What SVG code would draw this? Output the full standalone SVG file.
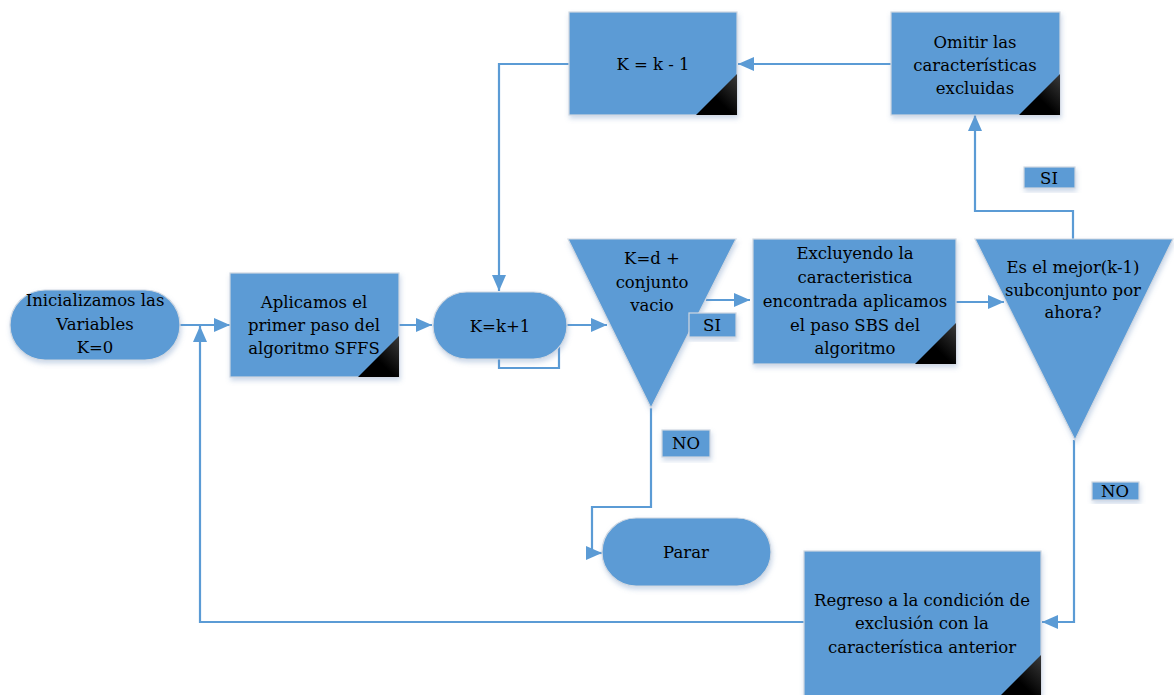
<svg xmlns="http://www.w3.org/2000/svg" width="1174" height="695" viewBox="0 0 1174 695">
<style>
.n{fill:#5B9BD5;stroke:#D0D8E2;stroke-width:1.2;filter:url(#sh)}
.c{fill:url(#cg)}
.t{font-family:"DejaVu Serif","Liberation Serif",serif;font-size:16.5px;fill:#000;text-anchor:middle}
.e{fill:none;stroke:#5B9BD5;stroke-width:2.2}
.a{marker-end:url(#ar)}
</style>
<defs>
<filter id="sh" x="-10%" y="-10%" width="130%" height="130%"><feDropShadow dx="1" dy="3" stdDeviation="2.5" flood-color="#6C8EBF" flood-opacity="0.35"/></filter>
<linearGradient id="cg" x1="0" y1="1" x2="1" y2="0"><stop offset="0.45" stop-color="#000"/><stop offset="1" stop-color="#3a3a3a"/></linearGradient>
<marker id="ar" markerUnits="userSpaceOnUse" markerWidth="16" markerHeight="14" refX="16" refY="7" orient="auto"><path d="M0,0 L16,7 L0,14 z" fill="#5B9BD5"/></marker>
</defs>
<g id="connectors">
<path class="e a" d="M180,325 H230"/>
<path class="e a" d="M808,622 H200 V326"/>
<path class="e a" d="M399,325 H432"/>
<path class="e a" d="M569,64 H499 V291"/>
<path class="e" d="M499,358 V368 H559 V346"/>
<path class="e a" d="M567,325 H607"/>
<path class="e a" d="M706,300 H750"/>
<path class="e a" d="M956,302 H1004"/>
<path class="e a" d="M1073,239 V211 H975 V115"/>
<path class="e a" d="M891,64 H738"/>
<path class="e a" d="M1074,440 V622 H1042"/>
<path class="e" d="M651,408 V507 H592 V553"/>
<path class="e a" d="M586,553 H602"/>
</g>
<g id="n1"><rect class="n" x="10" y="290" width="170" height="70" rx="35"/>
<text class="t" x="95" y="306">Inicializamos las</text><text class="t" x="95" y="330">Variables</text><text class="t" x="95" y="353">K=0</text></g>
<g id="n2"><rect class="n" x="230" y="273" width="169" height="104"/><path class="c" d="M399,336 V377 H358 z"/>
<text class="t" x="314" y="308">Aplicamos el</text><text class="t" x="314" y="331">primer paso del</text><text class="t" x="314" y="354">algoritmo SFFS</text></g>
<g id="n3"><rect class="n" x="433" y="292" width="134" height="67" rx="33.5"/>
<text class="t" x="500" y="332">K=k+1</text></g>
<g id="n4"><path class="n" d="M568,239 H736 L651,408 z"/>
<text class="t" x="652" y="264">K=d +</text><text class="t" x="652" y="288">conjunto</text><text class="t" x="652" y="311">vacio</text></g>
<g id="lsi1"><rect class="n" x="689" y="313" width="47" height="24"/><text class="t" x="712" y="331">SI</text></g>
<g id="n5"><rect class="n" x="753" y="239" width="203" height="125"/><path class="c" d="M956,323 V364 H915 z"/>
<text class="t" x="855" y="259">Excluyendo la</text><text class="t" x="855" y="283">caracteristica</text><text class="t" x="855" y="307">encontrada aplicamos</text><text class="t" x="855" y="331">el paso SBS del</text><text class="t" x="855" y="354">algoritmo</text></g>
<g id="n6"><path class="n" d="M975,239 H1173 L1075,440 z"/>
<text class="t" x="1073" y="273">Es el mejor(k-1)</text><text class="t" x="1073" y="296">subconjunto por</text><text class="t" x="1073" y="318">ahora?</text></g>
<g id="n7"><rect class="n" x="891" y="12" width="169" height="103"/><path class="c" d="M1060,74 V115 H1019 z"/>
<text class="t" x="975" y="48">Omitir las</text><text class="t" x="975" y="71">características</text><text class="t" x="975" y="94">excluidas</text></g>
<g id="n8"><rect class="n" x="569" y="12" width="168" height="103"/><path class="c" d="M737,74 V115 H696 z"/>
<text class="t" x="653" y="70">K = k - 1</text></g>
<g id="lsi2"><rect class="n" x="1024" y="167" width="51" height="21"/><text class="t" x="1049" y="184">SI</text></g>
<g id="lno1"><rect class="n" x="662" y="430" width="48" height="27"/><text class="t" x="686" y="449">NO</text></g>
<g id="lno2"><rect class="n" x="1092" y="482" width="47" height="18"/><text class="t" x="1115" y="497">NO</text></g>
<g id="n9"><rect class="n" x="602" y="518" width="169" height="68" rx="34"/>
<text class="t" x="686" y="558">Parar</text></g>
<g id="n10"><rect class="n" x="804" y="551" width="237" height="148"/><path class="c" d="M1041,655 V699 H997 z"/>
<text class="t" x="922" y="606">Regreso a la condición de</text><text class="t" x="922" y="629">exclusión con la</text><text class="t" x="922" y="653">característica anterior</text></g>
</svg>
